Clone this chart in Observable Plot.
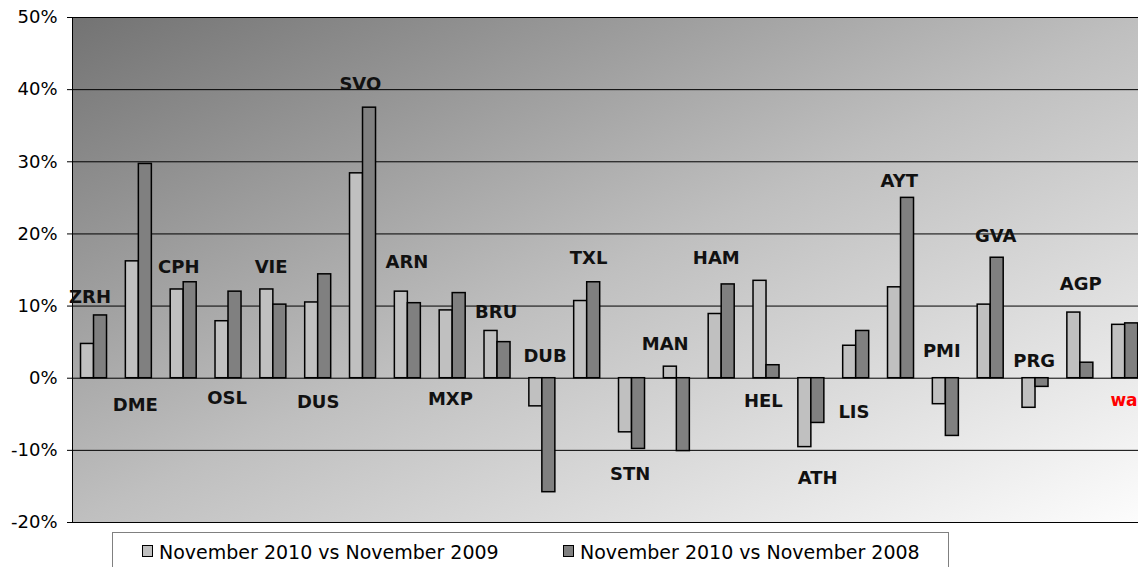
<!DOCTYPE html>
<html>
<head>
<meta charset="utf-8">
<script src="https://cdn.jsdelivr.net/npm/d3@7"></script>
<script src="https://cdn.jsdelivr.net/npm/@observablehq/plot@0.6"></script>
<style>
  html, body { margin: 0; padding: 0; background: #fff; overflow: hidden; }
  #chart svg { display: block; max-width: none !important; }
  #legend {
    position: relative; margin-left: 112px; width: 837px; height: 44px;
    border: 1px solid #808080; background: #fff; box-sizing: border-box;
    font-family: "DejaVu Sans", Verdana, sans-serif; font-size: 19px; color: #000;
  }
  .sw { position: absolute; width: 9px; height: 10px; border: 1px solid #000; top: 12px; }
  .lbl { position: absolute; top: 7px; white-space: nowrap; line-height: 24px; }
</style>
</head>
<body>
<div id="chart"></div>
<div id="legend"></div>
<script>
// ---- data ----
const airports = ["ZRH","DME","CPH","OSL","VIE","DUS","SVO","ARN","MXP","BRU","DUB","TXL","STN","MAN","HAM","HEL","ATH","LIS","AYT","PMI","GVA","PRG","AGP","wa"];
const vs2009 = [4.75,16.2,12.3,7.9,12.3,10.5,28.4,12.0,9.4,6.55,-3.9,10.7,-7.5,1.6,8.9,13.5,-9.55,4.5,12.6,-3.6,10.2,-4.1,9.1,7.4];
const vs2008 = [8.7,29.7,13.3,12.0,10.2,14.4,37.5,10.4,11.8,5.0,-15.8,13.3,-9.8,-10.1,13.0,1.8,-6.2,6.55,25.0,-8.0,16.7,-1.2,2.15,7.6];
// label anchor (value axis, %) and horizontal nudge (in category units)
const labelY = [11.2,-3.8,15.4,-2.8,15.4,-3.35,40.8,16.1,-2.9,9.2,3.0,16.7,-13.3,4.75,16.7,-3.2,-13.8,-4.65,27.3,3.7,19.65,2.4,13.0,-3.1];
const labelShift = [-0.09,-0.08,-0.11,-0.03,-0.05,0,-0.06,-0.02,-0.05,-0.03,0.06,0.03,-0.04,-0.26,-0.12,-0.07,0.14,-0.05,-0.04,-0.09,0.11,-0.03,0.01,-0.33];
const seriesNames = ["November 2010 vs November 2009","November 2010 vs November 2008"];
const seriesColors = ["#c0c0c0","#808080"];
const yTicks = [-20,-10,0,10,20,30,40,50];

// ---- tables ----
const half = 0.29;
const bars09 = airports.map((a, i) => ({i, airport: a, value: vs2009[i]}));
const bars08 = airports.map((a, i) => ({i, airport: a, value: vs2008[i]}));
const labels = airports.map((a, i) => ({i, airport: a, y: labelY[i], shift: labelShift[i]}));
const mainLabels = labels.filter(d => d.airport !== "wa");
const redLabels = labels.filter(d => d.airport === "wa");

const chart = Plot.plot({
  width: 1148,
  height: 532,
  marginLeft: 72,
  marginRight: 0,
  marginTop: 17,
  marginBottom: 10,
  style: {fontFamily: "DejaVu Sans, Verdana, sans-serif", fontSize: "18px", color: "#000", background: "#fff"},
  x: {domain: [-0.48, 23.52], axis: null},
  y: {domain: [-20, 50], axis: null},
  marks: [
    Plot.frame({fill: "url(#bgGrad)", stroke: "none"}),
    Plot.ruleY(yTicks, {stroke: "#000", strokeWidth: 1}),
    Plot.ruleX([-0.48], {stroke: "#000", strokeWidth: 1}),
    Plot.axisY({ticks: yTicks, tickFormat: d => d + "%", tickSize: 5, tickPadding: 10, stroke: "#000", fill: "#000", fontSize: 18}),
    Plot.rect(bars09, {x1: d => d.i - half, x2: d => d.i, y1: 0, y2: "value", fill: seriesColors[0], stroke: "#000", strokeWidth: 1.5}),
    Plot.rect(bars08, {x1: d => d.i, x2: d => d.i + half, y1: 0, y2: "value", fill: seriesColors[1], stroke: "#000", strokeWidth: 1.5}),
    Plot.text(mainLabels, {x: d => d.i + d.shift, y: "y", text: "airport", fontSize: 18, fontWeight: "bold", fill: "#111"}),
    Plot.text(redLabels, {x: d => d.i + d.shift, y: "y", text: "airport", fontSize: 17, fontWeight: "bold", fill: "#ff0000", textAnchor: "start"})
  ]
});
chart.style.maxWidth = "none";

// gradient background for the plot area
const svg = d3.select(chart);
const defs = svg.insert("defs", ":first-child");
const g = defs.append("linearGradient").attr("id", "bgGrad")
  .attr("x1", 0).attr("y1", 0).attr("x2", 1).attr("y2", 1);
g.append("stop").attr("offset", "0%").attr("stop-color", "#737373");
g.append("stop").attr("offset", "50%").attr("stop-color", "#bfbfbf");
g.append("stop").attr("offset", "100%").attr("stop-color", "#fdfdfd");

document.getElementById("chart").appendChild(chart);

// legend
const legend = document.getElementById("legend");
const swLeft = [29, 450];
const txtLeft = [46, 467];
seriesNames.forEach((name, k) => {
  const sw = document.createElement("div");
  sw.className = "sw";
  sw.style.left = swLeft[k] + "px";
  sw.style.background = seriesColors[k];
  legend.appendChild(sw);
  const t = document.createElement("div");
  t.className = "lbl";
  t.style.left = txtLeft[k] + "px";
  t.textContent = name;
  legend.appendChild(t);
});
</script>
</body>
</html>
